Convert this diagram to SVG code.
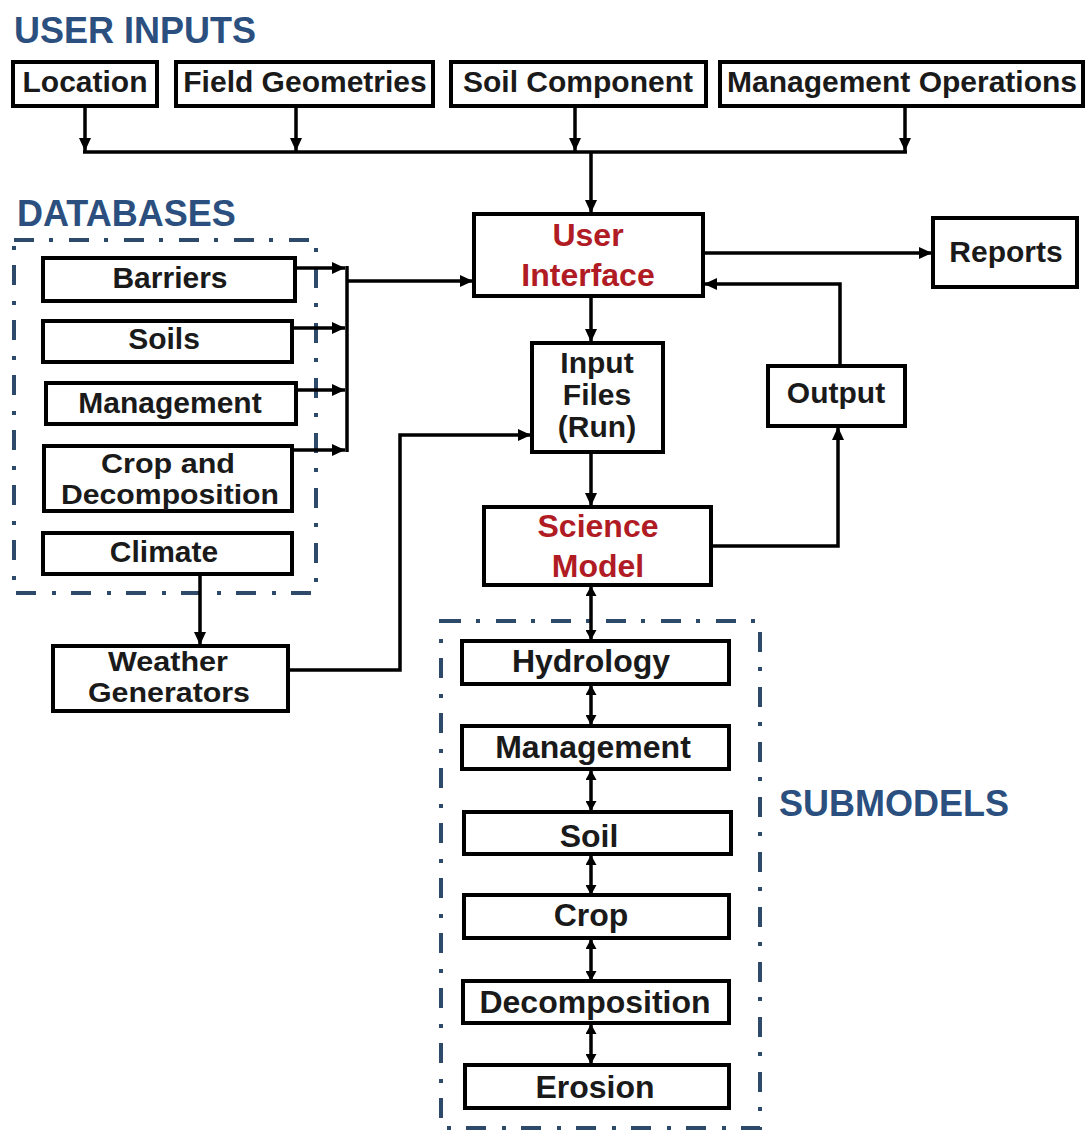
<svg xmlns="http://www.w3.org/2000/svg" width="1086" height="1130" viewBox="0 0 1086 1130">
<defs>
<marker id="ah" markerUnits="userSpaceOnUse" markerWidth="13" markerHeight="12" refX="13" refY="6" orient="auto-start-reverse"><path d="M0,0 L13,6 L0,12 z" fill="#000"/></marker>
<marker id="ahs" markerUnits="userSpaceOnUse" markerWidth="10" markerHeight="11" refX="10" refY="5.5" orient="auto-start-reverse"><path d="M0,0 L10,5.5 L0,11 z" fill="#000"/></marker>
</defs>
<style>
.box{fill:#fff;stroke:#000;stroke-width:4}
.t{font-family:"Liberation Sans",Arial,sans-serif;font-weight:bold;font-size:30px;fill:#1a1a1a;text-anchor:middle}
.s{font-size:32px}
.two{font-size:27px}
.red{fill:#b01b24;font-size:32px}
.title{font-family:"Liberation Sans",Arial,sans-serif;font-weight:bold;font-size:36px;fill:#2b4f7e}
.grp{fill:none;stroke:#2e4a6a;stroke-width:4;stroke-dasharray:20 15 4 16}
.c{fill:none;stroke:#000;stroke-width:3.5}
.a{marker-end:url(#ah)}
.d{marker-start:url(#ahs);marker-end:url(#ahs)}
</style>
<rect width="1086" height="1130" fill="#fff"/>
<text class="title" x="14" y="43">USER INPUTS</text>
<text class="title" x="17" y="226">DATABASES</text>
<text class="title" x="779" y="816">SUBMODELS</text>
<rect class="grp" x="14" y="240" width="302" height="353"/>
<rect class="grp" x="441" y="621" width="319" height="507"/>
<g id="connectors">
<line class="c a" x1="85" y1="107" x2="85" y2="151"/>
<line class="c a" x1="296" y1="107" x2="296" y2="151"/>
<line class="c a" x1="575" y1="107" x2="575" y2="151"/>
<line class="c a" x1="905" y1="107" x2="905" y2="151"/>
<line class="c" x1="83" y1="152" x2="907" y2="152"/>
<line class="c a" x1="591" y1="152" x2="591" y2="213"/>
<line class="c a" x1="295" y1="268" x2="345" y2="268"/>
<line class="c a" x1="292" y1="328" x2="345" y2="328"/>
<line class="c a" x1="296" y1="390" x2="345" y2="390"/>
<line class="c a" x1="292" y1="450" x2="345" y2="450"/>
<line class="c" x1="347" y1="266" x2="347" y2="452"/>
<line class="c a" x1="347" y1="281" x2="473" y2="281"/>
<line class="c a" x1="703" y1="253" x2="932" y2="253"/>
<line class="c a" x1="591" y1="296" x2="591" y2="342"/>
<polyline class="c a" points="840,366 840,284 704,284"/>
<polyline class="c a" points="288,670 400,670 400,435 531,435"/>
<line class="c a" x1="591" y1="452" x2="591" y2="506"/>
<polyline class="c a" points="711,546 838,546 838,427"/>
<line class="c a" x1="200" y1="574" x2="200" y2="645"/>
<line class="c d" x1="591" y1="586" x2="591" y2="640"/>
<line class="c d" x1="591" y1="685" x2="591" y2="725"/>
<line class="c d" x1="591" y1="770" x2="591" y2="811"/>
<line class="c d" x1="591" y1="855" x2="591" y2="895"/>
<line class="c d" x1="591" y1="939" x2="591" y2="981"/>
<line class="c d" x1="591" y1="1024" x2="591" y2="1064"/>
</g>
<g id="n-location"><rect class="box" x="13" y="62" width="144" height="44"/><text class="t" x="85" y="92">Location</text></g>
<g id="n-field"><rect class="box" x="176" y="62" width="257" height="44"/><text class="t" x="305" y="92">Field Geometries</text></g>
<g id="n-soilcomp"><rect class="box" x="451" y="62" width="255" height="44"/><text class="t" x="578" y="92">Soil Component</text></g>
<g id="n-mgmtops"><rect class="box" x="720" y="62" width="363" height="44"/><text class="t" x="902" y="92">Management Operations</text></g>
<g id="n-barriers"><rect class="box" x="43" y="258" width="252" height="43"/><text class="t" x="170" y="288">Barriers</text></g>
<g id="n-soils"><rect class="box" x="43" y="321" width="249" height="41"/><text class="t" x="164" y="349">Soils</text></g>
<g id="n-mgmt-db"><rect class="box" x="46" y="383" width="250" height="41"/><text class="t" x="170" y="413">Management</text></g>
<g id="n-cropdecomp"><rect class="box" x="44" y="446" width="248" height="65"/><text class="t two" x="168" y="473" textLength="134" lengthAdjust="spacingAndGlyphs">Crop and</text><text class="t two" x="170" y="504" textLength="218" lengthAdjust="spacingAndGlyphs">Decomposition</text></g>
<g id="n-climate"><rect class="box" x="43" y="533" width="249" height="41"/><text class="t" x="164" y="562">Climate</text></g>
<g id="n-weather"><rect class="box" x="53" y="646" width="235" height="65"/><text class="t two" x="168" y="671" textLength="120" lengthAdjust="spacingAndGlyphs">Weather</text><text class="t two" x="169" y="702" textLength="162" lengthAdjust="spacingAndGlyphs">Generators</text></g>
<g id="n-ui"><rect class="box" x="474" y="214" width="229" height="82"/><text class="t red" x="588" y="246">User</text><text class="t red" x="588" y="286">Interface</text></g>
<g id="n-reports"><rect class="box" x="933" y="218" width="144" height="69"/><text class="t" x="1006" y="262">Reports</text></g>
<g id="n-input"><rect class="box" x="532" y="343" width="131" height="109"/><text class="t" x="597" y="373">Input</text><text class="t" x="597" y="405">Files</text><text class="t" x="597" y="437">(Run)</text></g>
<g id="n-output"><rect class="box" x="768" y="366" width="137" height="60"/><text class="t" x="836" y="403">Output</text></g>
<g id="n-science"><rect class="box" x="484" y="507" width="227" height="78"/><text class="t red" x="598" y="537">Science</text><text class="t red" x="598" y="577">Model</text></g>
<g id="n-hydrology"><rect class="box" x="462" y="641" width="267" height="43"/><text class="t s" x="591" y="672">Hydrology</text></g>
<g id="n-mgmt-sub"><rect class="box" x="462" y="726" width="267" height="43"/><text class="t s" x="593" y="758">Management</text></g>
<g id="n-soil"><rect class="box" x="464" y="812" width="267" height="42"/><text class="t s" x="589" y="847">Soil</text></g>
<g id="n-crop"><rect class="box" x="464" y="895" width="265" height="43"/><text class="t s" x="591" y="926">Crop</text></g>
<g id="n-decomp"><rect class="box" x="463" y="981" width="266" height="42"/><text class="t s" x="595" y="1013">Decomposition</text></g>
<g id="n-erosion"><rect class="box" x="465" y="1065" width="264" height="43"/><text class="t s" x="595" y="1098">Erosion</text></g>
</svg>
